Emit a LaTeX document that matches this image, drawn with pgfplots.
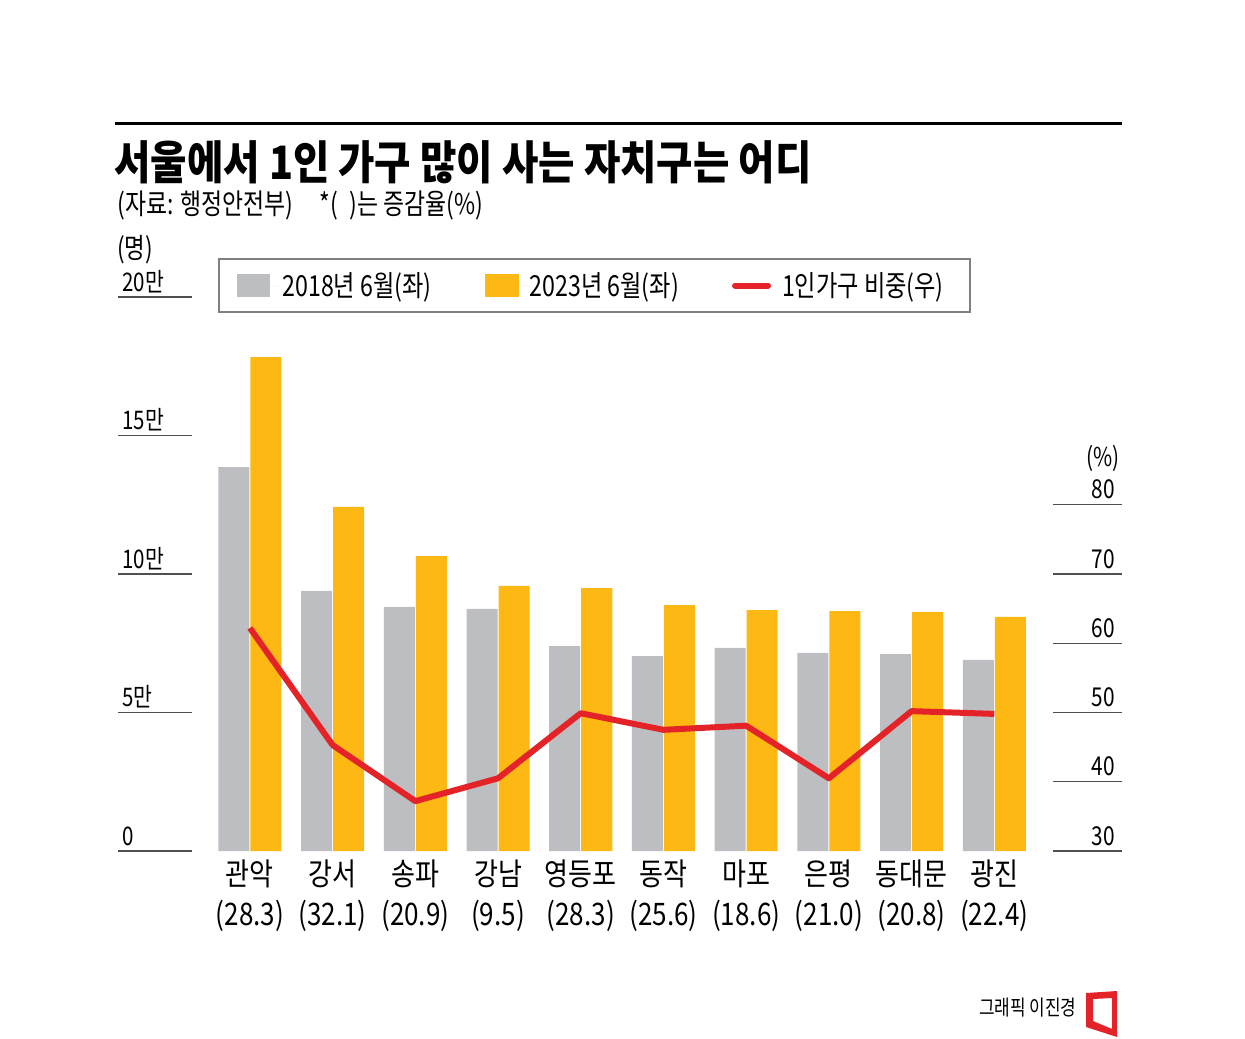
\documentclass[border=0pt]{standalone}
\usepackage{pgfplots}
\pgfplotsset{compat=1.18}
\usepackage{fontspec}
\setmainfont{Noto Sans CJK KR}
\newfontfamily\cond[FakeStretch=0.8]{Noto Sans CJK KR}
\newfontfamily\condc[FakeStretch=0.84]{Noto Sans CJK KR}
\newfontfamily\condt[FakeStretch=0.86]{Noto Sans CJK KR}
\definecolor{bgray}{RGB}{189,190,193}
\definecolor{byel}{RGB}{253,184,19}
\definecolor{lred}{RGB}{227,35,40}
\definecolor{tline}{RGB}{80,80,80}
\begin{document}
\begin{tikzpicture}
\begin{scope}[x=0.5pt,y=-0.5pt]
\path[use as bounding box] (0,0) rectangle (1245,1038);
\draw[line width=1.5pt] (115,123) -- (1122,123);
\node[anchor=west, inner sep=0pt] at (114,162) {\condt\bfseries\fontsize{23}{23}\selectfont 서울에서 1인 가구 많이 사는 자치구는 어디};
\node[anchor=west, inner sep=0pt] at (117,205) {\cond\fontsize{14.3}{15}\selectfont (자료: 행정안전부)\hspace{13pt}*(\hspace{6pt})는 증감율(\%)};
\node[anchor=west, inner sep=0pt] at (117,250) {\cond\fontsize{14}{14}\selectfont (명)};
% legend frame
\draw[draw=gray, line width=0.6pt] (219,259) rectangle (970,312);
% left ticks
\draw[tline, line width=0.7pt] (118,851) -- (192,851);
\draw[tline, line width=0.7pt] (118,712.5) -- (192,712.5);
\draw[tline, line width=0.7pt] (118,574) -- (192,574);
\draw[tline, line width=0.7pt] (118,435.5) -- (192,435.5);
\draw[tline, line width=0.7pt] (118,297) -- (192,297);
\begin{scope}[every node/.style={anchor=base west, inner sep=0pt, font=\cond\fontsize{12.8}{13}\selectfont}]
\node at (122,845) {0};
\node at (122,706) {5만};
\node at (122,568) {10만};
\node at (122,429) {15만};
\node at (122,291) {20만};
\end{scope}
% right ticks
\draw[tline, line width=0.7pt] (1053,851) -- (1122,851);
\draw[tline, line width=0.7pt] (1053,781.75) -- (1122,781.75);
\draw[tline, line width=0.7pt] (1053,712.5) -- (1122,712.5);
\draw[tline, line width=0.7pt] (1053,643.25) -- (1122,643.25);
\draw[tline, line width=0.7pt] (1053,574) -- (1122,574);
\draw[tline, line width=0.7pt] (1053,504.75) -- (1122,504.75);
\begin{scope}[every node/.style={anchor=base east, inner sep=0pt, font=\cond\fontsize{13}{13}\selectfont}]
\node at (1115,845) {30};
\node at (1115,775.5) {40};
\node at (1115,706) {50};
\node at (1115,637) {60};
\node at (1115,568) {70};
\node at (1115,498.5) {80};
\node at (1120,466) {(\%)};
\end{scope}
% credit
\node[anchor=east, inner sep=0pt] at (1077,1008) {\cond\fontsize{10.6}{11}\selectfont 그래픽 이진경};
\fill[lred, even odd rule] (1086,993) -- (1117,991) -- (1117,1037) -- (1086,1027) -- cycle
  (1093,999) -- (1112,998) -- (1112,1029) -- (1093,1021) -- cycle;
\end{scope}

\begin{axis}[
  at={(96pt,-425.5pt)}, anchor=south west, scale only axis,
  width=430.5pt, height=277pt,
  xmin=-0.7, xmax=9.71, ymin=0, ymax=20,
  axis line style={draw=none},
  clip=false,
  ytick=\empty,
  xtick={0,1,2,3,4,5,6,7,8,9},
  xticklabels={{관악\\(28.3)},{강서\\(32.1)},{송파\\(20.9)},{강남\\(9.5)},{영등포\\(28.3)},{동작\\(25.6)},{마포\\(18.6)},{은평\\(21.0)},{동대문\\(20.8)},{광진\\(22.4)}},
  xticklabel style={align=center, font=\condc\fontsize{15.5}{20}\selectfont, inner sep=0pt, yshift=-4pt},
  major tick length=0pt,
  legend style={draw=none, fill=none, at={(axis cs:-0.228,20.415)}, anchor=west,
     legend columns=3, font=\cond\fontsize{14.5}{15}\selectfont,
     /tikz/every even column/.append style={column sep=26.5pt},
     nodes={inner sep=0pt}},
  legend cell align=left,
]
\addplot[ybar, bar width=0.375, bar shift=-0.1935, fill=bgray, draw=none,
  legend image code/.code={\fill[bgray] (0pt,-5.75pt) rectangle (16.5pt,5.75pt); \path[draw=none] (0pt,0pt) -- (22.5pt,0pt);}]
  coordinates {(0,13.86) (1,9.39) (2,8.81) (3,8.74) (4,7.40) (5,7.04) (6,7.33) (7,7.15) (8,7.11) (9,6.90)};
\addlegendentry{2018년 6월(좌)}
\addplot[ybar, bar width=0.375, bar shift=0.1935, fill=byel, draw=none,
  legend image code/.code={\fill[byel] (0pt,-5.75pt) rectangle (17pt,5.75pt); \path[draw=none] (0pt,0pt) -- (22.5pt,0pt);}]
  coordinates {(0,17.83) (1,12.42) (2,10.65) (3,9.57) (4,9.49) (5,8.88) (6,8.70) (7,8.66) (8,8.63) (9,8.45)};
\addlegendentry{2023년 6월(좌)}
\addlegendimage{draw=none, legend image code/.code={\draw[lred, line width=3pt, line cap=round] (1.5pt,0pt) -- (18pt,0pt); \path[draw=none] (0pt,0pt) -- (25pt,0pt);}}
\addlegendentry{1인가구 비중(우)}
\end{axis}

\begin{axis}[
  at={(96pt,-425.5pt)}, anchor=south west, scale only axis,
  width=430.5pt, height=277pt,
  xmin=-0.7, xmax=9.71, ymin=30, ymax=110,
  axis line style={draw=none},
  xtick=\empty, ytick=\empty, major tick length=0pt,
]
\addplot[lred, line width=3pt, line join=round, mark=none]
  coordinates {(0,62.2) (1,45.3) (2,37.2) (3,40.5) (4,49.9) (5,47.5) (6,48.1) (7,40.5) (8,50.2) (9,49.8)};
\end{axis}
\end{tikzpicture}
\end{document}
